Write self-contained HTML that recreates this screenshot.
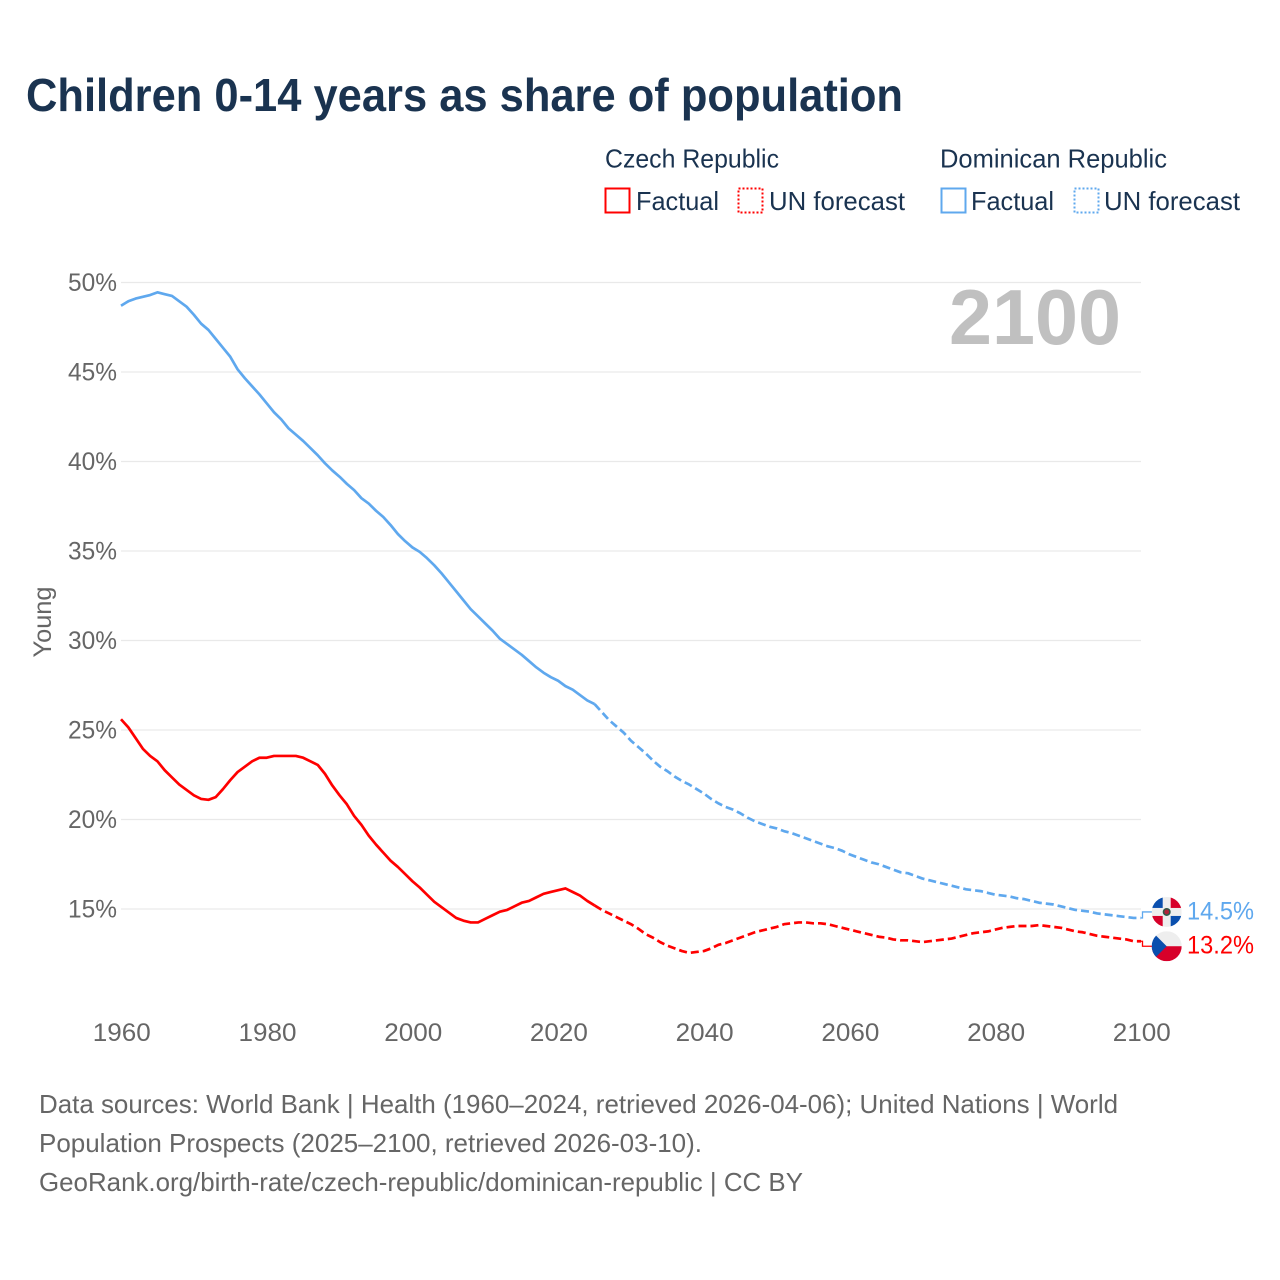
<!DOCTYPE html>
<html lang="en">
<head>
<meta charset="utf-8">
<title>Children 0-14 years as share of population</title>
<style>
html,body{margin:0;padding:0;background:#fff;}
svg{display:block;font-family:"Liberation Sans",sans-serif;}
</style>
</head>
<body>
<svg id="chart" xmlns="http://www.w3.org/2000/svg" width="1280" height="1280" viewBox="0 0 1280 1280">
  <defs>
    <clipPath id="clip-dr"><circle cx="0" cy="0" r="15"/></clipPath>
    <clipPath id="clip-cz"><circle cx="0" cy="0" r="15"/></clipPath>
  </defs>
  <rect width="1280" height="1280" fill="#fff"/>
  <text x="26" y="111" font-size="46" font-weight="700" fill="#1a3350" textLength="877" lengthAdjust="spacingAndGlyphs">Children 0-14 years as share of population</text>

  <g font-size="26" fill="#1a3350">
    <text x="605" y="167.5" textLength="174" lengthAdjust="spacingAndGlyphs">Czech Republic</text>
    <rect x="605.5" y="188.5" width="24" height="24" fill="none" stroke="#ff0000" stroke-width="2"/>
    <text x="636" y="210" textLength="83" lengthAdjust="spacingAndGlyphs">Factual</text>
    <rect x="738.5" y="188.5" width="24" height="24" fill="none" stroke="#ff0000" stroke-width="2" stroke-dasharray="2 2"/>
    <text x="769" y="210" textLength="136" lengthAdjust="spacingAndGlyphs">UN forecast</text>
    <text x="940" y="167.5" textLength="227" lengthAdjust="spacingAndGlyphs">Dominican Republic</text>
    <rect x="941.5" y="188.5" width="24" height="24" fill="none" stroke="#5fa8ee" stroke-width="2"/>
    <text x="971" y="210" textLength="83" lengthAdjust="spacingAndGlyphs">Factual</text>
    <rect x="1074.5" y="188.5" width="24" height="24" fill="none" stroke="#5fa8ee" stroke-width="2" stroke-dasharray="2 2"/>
    <text x="1104" y="210" textLength="136" lengthAdjust="spacingAndGlyphs">UN forecast</text>
  </g>

  <g id="grid"></g>
  <g id="y-axis"></g>
  <g id="x-axis"></g>
  <text transform="translate(51,622) rotate(-90)" text-anchor="middle" font-size="25" fill="#666" textLength="71" lengthAdjust="spacingAndGlyphs">Young</text>
  <text x="949" y="344" font-size="78" font-weight="700" fill="#c0c0c0" textLength="172" lengthAdjust="spacingAndGlyphs">2100</text>

  <g id="series"></g>
  <g id="ends"></g>

  <g font-size="26" fill="#666">
    <text x="39" y="1113" textLength="1079" lengthAdjust="spacingAndGlyphs">Data sources: World Bank | Health (1960–2024, retrieved 2026-04-06); United Nations | World</text>
    <text x="39" y="1152" textLength="663" lengthAdjust="spacingAndGlyphs">Population Prospects (2025–2100, retrieved 2026-03-10).</text>
    <text x="39" y="1191" textLength="764" lengthAdjust="spacingAndGlyphs">GeoRank.org/birth-rate/czech-republic/dominican-republic | CC BY</text>
  </g>
</svg>
<script>
const yTicks = [50, 45, 40, 35, 30, 25, 20, 15];
const xTicks = [1960, 1980, 2000, 2020, 2040, 2060, 2080, 2100];
const factualStartYear = 1960;
const forecastStartYear = 2025;

const czechFactual = [25.6,25.15,24.55,23.95,23.55,23.25,22.75,22.35,21.95,21.65,21.35,21.15,21.1,21.25,21.7,22.2,22.65,22.95,23.25,23.45,23.45,23.55,23.55,23.55,23.55,23.45,23.25,23.05,22.55,21.9,21.35,20.85,20.2,19.7,19.1,18.6,18.15,17.7,17.35,16.95,16.55,16.2,15.8,15.4,15.1,14.8,14.5,14.35,14.25,14.25,14.45,14.65,14.85,14.95,15.15,15.35,15.45,15.65,15.85,15.95,16.05,16.15,15.95,15.75,15.45,15.2];
const czechForecast = [15.2,14.95,14.75,14.55,14.35,14.15,13.9,13.6,13.4,13.15,12.95,12.8,12.65,12.55,12.6,12.65,12.8,13.0,13.1,13.25,13.4,13.55,13.7,13.8,13.9,14.0,14.15,14.2,14.25,14.25,14.2,14.2,14.15,14.05,13.95,13.85,13.75,13.65,13.55,13.45,13.4,13.3,13.25,13.25,13.2,13.15,13.2,13.25,13.3,13.35,13.45,13.55,13.65,13.7,13.75,13.85,13.95,14.0,14.05,14.05,14.05,14.1,14.05,14.0,13.95,13.85,13.75,13.7,13.6,13.5,13.45,13.4,13.35,13.3,13.2,13.2];
const dominicanFactual = [48.7,48.95,49.1,49.2,49.3,49.45,49.35,49.25,48.95,48.65,48.2,47.7,47.35,46.85,46.35,45.85,45.15,44.65,44.2,43.75,43.25,42.75,42.35,41.85,41.5,41.15,40.75,40.35,39.9,39.5,39.15,38.75,38.4,37.95,37.65,37.25,36.9,36.45,35.95,35.55,35.2,34.95,34.6,34.2,33.75,33.25,32.75,32.25,31.75,31.35,30.95,30.55,30.1,29.8,29.5,29.2,28.85,28.5,28.2,27.95,27.75,27.45,27.25,26.95,26.65,26.45];
const dominicanForecast = [26.45,26.0,25.55,25.2,24.85,24.4,24.05,23.7,23.3,22.95,22.7,22.4,22.15,21.95,21.7,21.45,21.15,20.9,20.7,20.55,20.35,20.1,19.9,19.75,19.6,19.5,19.35,19.25,19.1,18.95,18.8,18.65,18.5,18.4,18.25,18.05,17.9,17.75,17.6,17.5,17.35,17.2,17.05,17.0,16.85,16.7,16.6,16.5,16.4,16.3,16.2,16.1,16.05,16.0,15.9,15.8,15.75,15.7,15.6,15.55,15.45,15.35,15.3,15.25,15.15,15.05,14.95,14.9,14.85,14.75,14.7,14.65,14.6,14.55,14.5,14.5];

const NS = 'http://www.w3.org/2000/svg';
function xScale(year) { return 121 + (year - 1960) * (1020 / 140); }
function yScale(v) { return 282.5 + (50 - v) * 17.9; }
function make(tag, attrs, parent) {
  const el = document.createElementNS(NS, tag);
  for (const k in attrs) el.setAttribute(k, attrs[k]);
  parent.appendChild(el);
  return el;
}
function pathFor(values, startYear) {
  return values.map((v, i) => (i ? 'L' : 'M') + xScale(startYear + i).toFixed(2) + ' ' + yScale(v).toFixed(2)).join(' ');
}

const gridG = document.getElementById('grid');
const yG = document.getElementById('y-axis');
yTicks.forEach(t => {
  const y = yScale(t);
  const line = make('line', {x1: 121, x2: 1141, y1: y, y2: y, stroke: '#e9e9e9', 'stroke-width': 1.2}, gridG);
  
  
  const label = make('text', {x: 117, y: y + 8.5, 'text-anchor': 'end', 'font-size': 25, fill: '#666', textLength: 49, lengthAdjust: 'spacingAndGlyphs'}, yG);
  
  
  label.textContent = t + '%';
});

const xG = document.getElementById('x-axis');
xTicks.forEach(t => {
  const label = make('text', {x: xScale(t) + 0.8, y: 1041, 'text-anchor': 'middle', 'font-size': 25, fill: '#666', textLength: 58, lengthAdjust: 'spacingAndGlyphs'}, xG);
  
  
  label.textContent = t;
});

const sG = document.getElementById('series');
const BLUE = '#5fa8ee';
const RED = '#ff0000';
const lineStyle = {fill: 'none', 'stroke-width': 2.7, 'stroke-linejoin': 'round'};

const dFact = make('path', Object.assign({d: pathFor(dominicanFactual, factualStartYear), stroke: BLUE}, lineStyle), sG);


const dFore = make('path', Object.assign({d: pathFor(dominicanForecast, forecastStartYear), stroke: BLUE, 'stroke-dasharray': '8 4'}, lineStyle), sG);


const cFact = make('path', Object.assign({d: pathFor(czechFactual, factualStartYear), stroke: RED}, lineStyle), sG);


const cFore = make('path', Object.assign({d: pathFor(czechForecast, forecastStartYear), stroke: RED, 'stroke-dasharray': '8 4'}, lineStyle), sG);



const endsG = document.getElementById('ends');
const lastD = dominicanForecast[dominicanForecast.length - 1];
const lastC = czechForecast[czechForecast.length - 1];
const endX = xScale(2100);
const flagDY = yScale(lastD) - 6;
const flagCY = yScale(lastC) + 5;

const connD = make('path', {d: 'M' + endX + ' ' + yScale(lastD) + ' L' + (endX + 1.5) + ' ' + yScale(lastD) + ' L' + (endX + 1.5) + ' ' + flagDY + ' L1152 ' + flagDY, fill: 'none', stroke: BLUE, 'stroke-width': 1.3}, endsG);


const connC = make('path', {d: 'M' + endX + ' ' + yScale(lastC) + ' L' + (endX + 1.5) + ' ' + yScale(lastC) + ' L' + (endX + 1.5) + ' ' + flagCY + ' L1152 ' + flagCY, fill: 'none', stroke: RED, 'stroke-width': 1.3}, endsG);



const flagD = make('g', {transform: 'translate(1166.7,' + flagDY + ')', 'clip-path': 'url(#clip-dr)'}, endsG);


make('rect', {x: -15, y: -15, width: 30, height: 30, fill: '#eeeeee'}, flagD);
make('rect', {x: -15, y: -15, width: 11, height: 11, fill: '#0a4fae'}, flagD);
make('rect', {x: 4, y: -15, width: 11, height: 11, fill: '#d7002a'}, flagD);
make('rect', {x: -15, y: 4, width: 11, height: 11, fill: '#d7002a'}, flagD);
make('rect', {x: 4, y: 4, width: 11, height: 11, fill: '#0a4fae'}, flagD);
make('circle', {cx: 0, cy: 0, r: 4, fill: '#2f5a4a'}, flagD);
make('circle', {cx: 0, cy: 0, r: 2.4, fill: '#b0243a'}, flagD);

const flagC = make('g', {transform: 'translate(1166.7,' + flagCY + ')', 'clip-path': 'url(#clip-cz)'}, endsG);


make('rect', {x: -15, y: -15, width: 30, height: 15, fill: '#eeeeee'}, flagC);
make('rect', {x: -15, y: 0, width: 30, height: 15, fill: '#d7002a'}, flagC);
make('polygon', {points: '-15,-15 0,0 -15,15', fill: '#0a4fae'}, flagC);

const valD = make('text', {x: 1187, y: flagDY + 7.5, 'font-size': 25, fill: BLUE, textLength: 67, lengthAdjust: 'spacingAndGlyphs'}, endsG);


valD.textContent = lastD.toFixed(1) + '%';
const valC = make('text', {x: 1187, y: flagCY + 7.5, 'font-size': 25, fill: RED, textLength: 67, lengthAdjust: 'spacingAndGlyphs'}, endsG);


valC.textContent = lastC.toFixed(1) + '%';
</script>
</body>
</html>
